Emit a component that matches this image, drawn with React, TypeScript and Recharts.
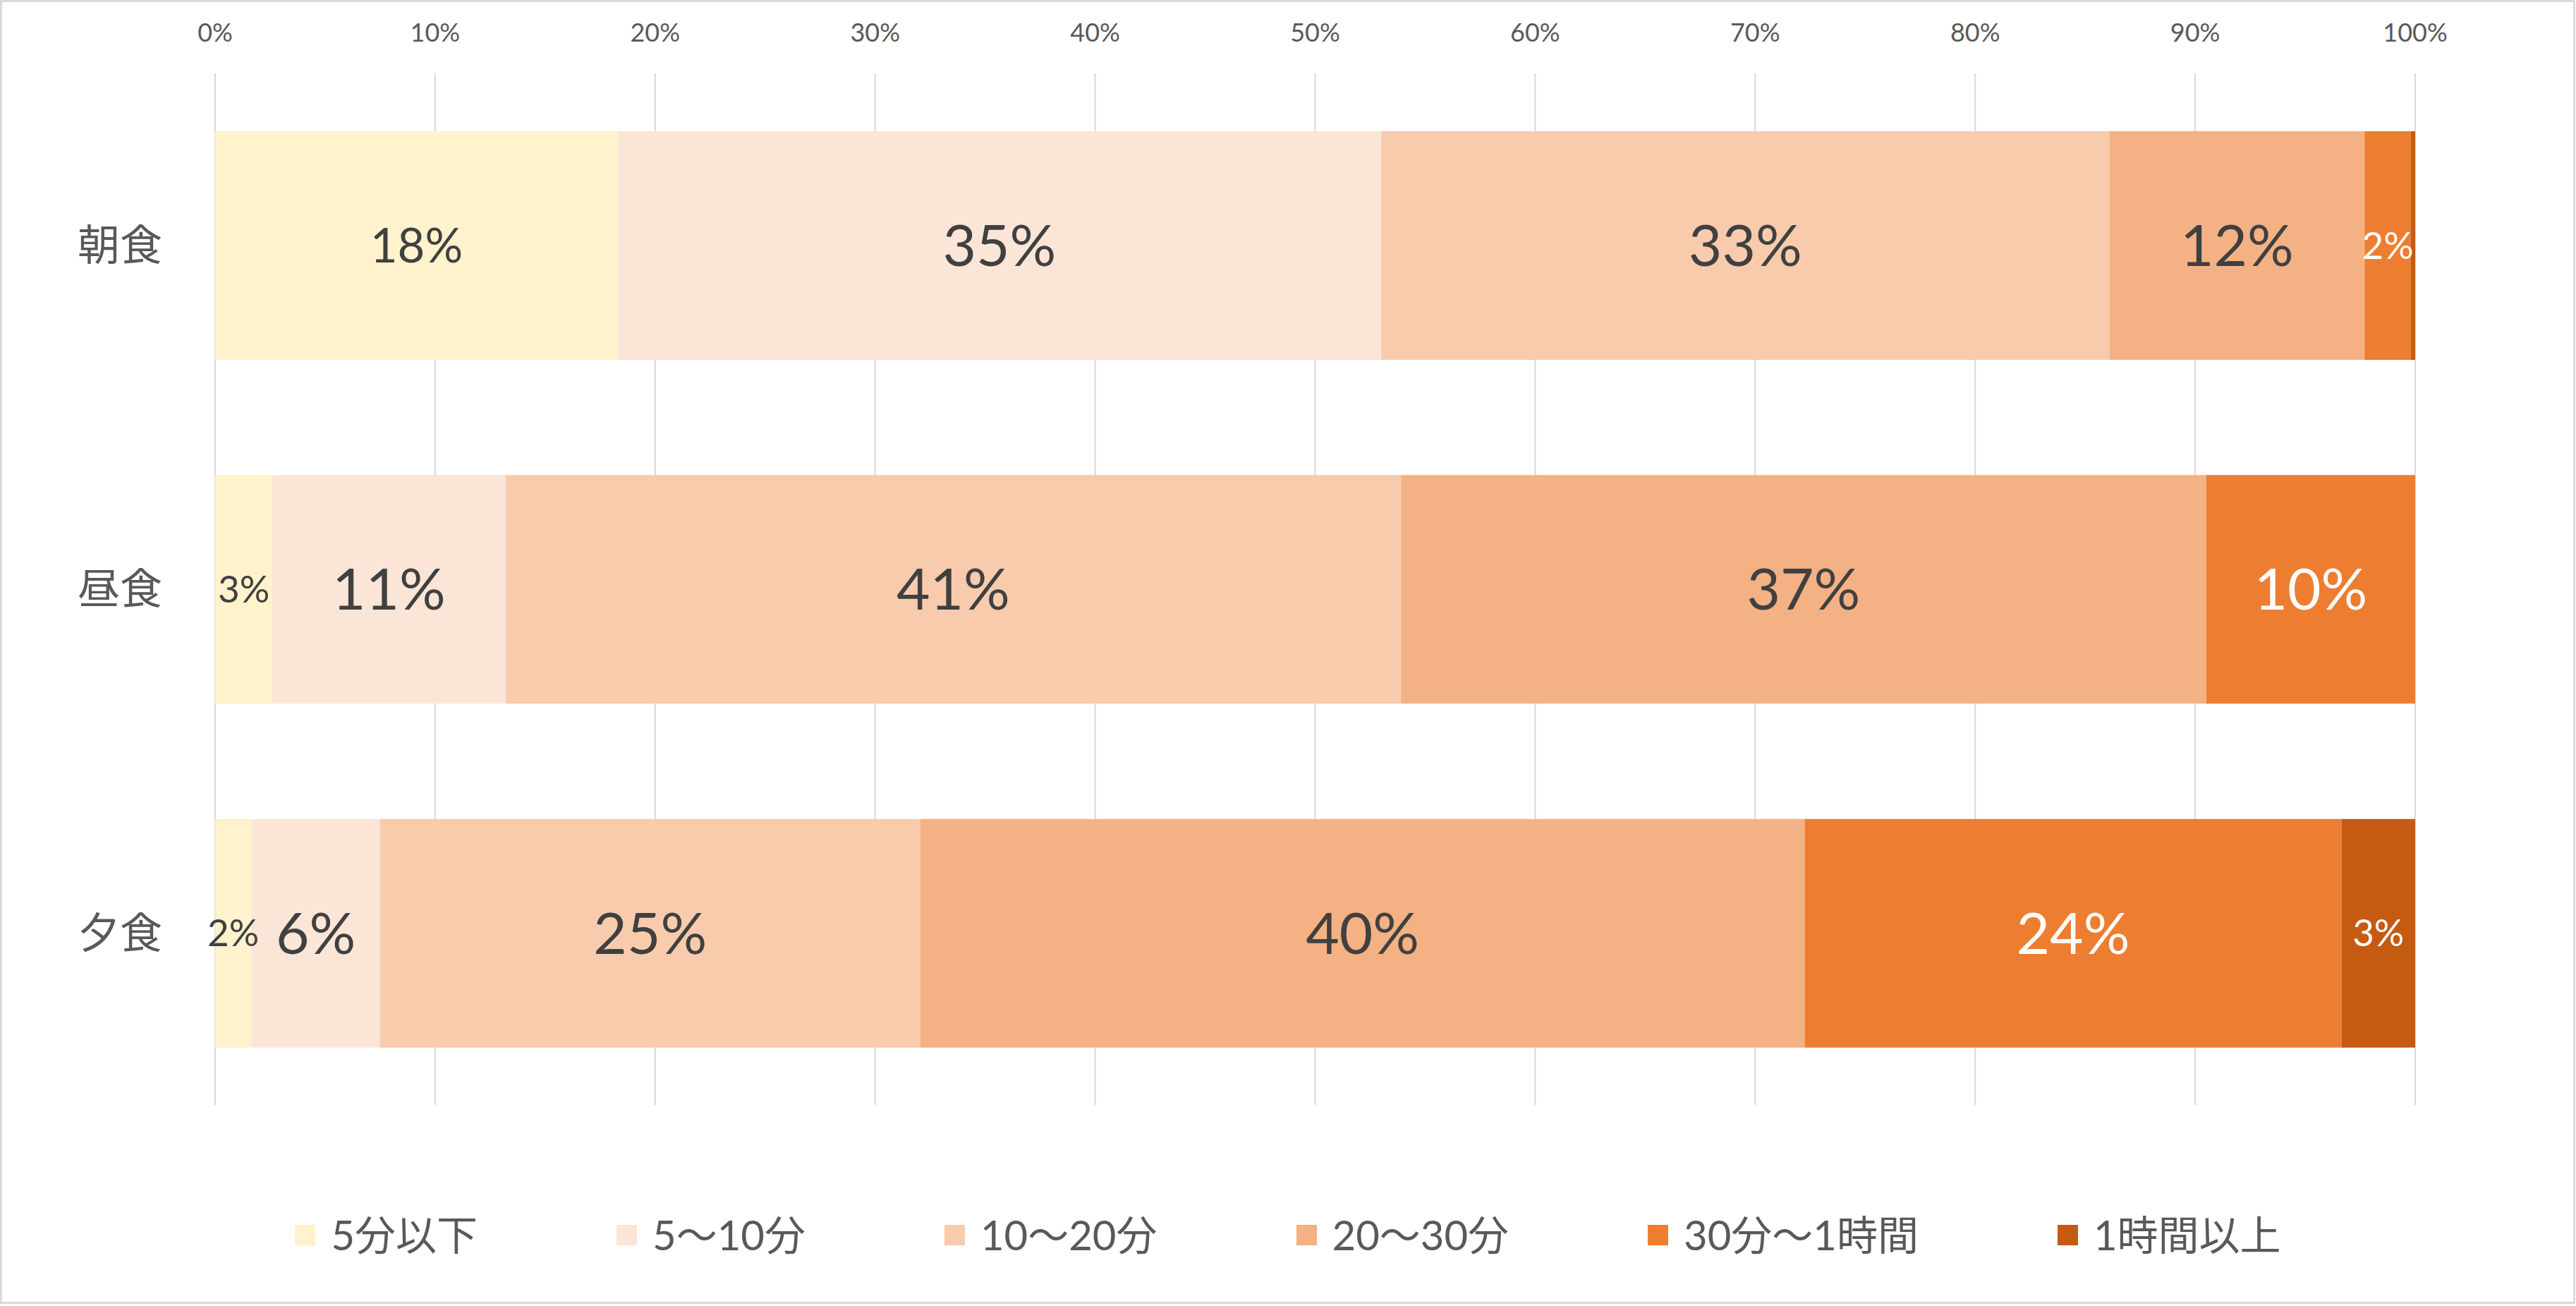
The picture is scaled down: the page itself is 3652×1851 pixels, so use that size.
import React from "react";
import { BarChart, Bar, XAxis, YAxis, CartesianGrid, Legend, LabelList, Text } from "recharts";

// 食事にかける時間の割合（朝食・昼食・夕食）
const categories = ["朝食", "昼食", "夕食"];
const seriesNames = ["5分以下", "5〜10分", "10〜20分", "20〜30分", "30分〜1時間", "1時間以上"];
const under5 = [18.3, 2.6, 1.65];
const from5to10 = [34.7, 10.6, 5.85];
const from10to20 = [33.1, 40.7, 24.55];
const from20to30 = [11.6, 36.6, 40.2];
const from30to60 = [2.1, 9.5, 24.4];
const over60 = [0.2, 0, 3.35];
const xTicks = [0, 10, 20, 30, 40, 50, 60, 70, 80, 90, 100];

const seriesValues = [under5, from5to10, from10to20, from20to30, from30to60, over60];

const COLORS = ["#FFF2CC", "#FBE5D6", "#F8CBAD", "#F4B183", "#ED7D31", "#C55A11"];
const LABEL_FILL = ["#404040", "#404040", "#404040", "#404040", "#FFFFFF", "#FFFFFF"];
const FONT = "Lato, 'Noto Sans CJK JP', sans-serif";
const W = 3652;
const H = 1851;
// 朝食の「5分以下」だけラベルが少し小さい
const sizeOverride: Record<string, number> = { "0-0": 67 };

const data = categories.map((name, i) => {
  const row: any = { name };
  seriesValues.forEach((vals, j) => {
    row[`k${j}`] = vals[i];
  });
  return row;
});

const makeLabel = (j: number) => (props: any) => {
  const vb = props.viewBox || {};
  const x = props.x ?? vb.x;
  const y = props.y ?? vb.y;
  const width = props.width ?? vb.width;
  const height = props.height ?? vb.height;
  const value = Number(props.value);
  if (!isFinite(value) || value < 1) return null;
  const size = value < 5 ? 53 : sizeOverride[`${props.index}-${j}`] ?? 82;
  return (
    <Text
      x={x + width / 2}
      y={y + height / 2}
      textAnchor="middle"
      verticalAnchor="middle"
      fontSize={size}
      fontFamily={FONT}
      fill={LABEL_FILL[j]}
    >
      {`${Math.round(value)}%`}
    </Text>
  );
};

const renderLegend = () => (
  <div
    style={{
      height: 285,
      width: W,
      display: "flex",
      justifyContent: "center",
      alignItems: "flex-start",
      paddingTop: 144,
      boxSizing: "border-box",
      fontFamily: FONT,
    }}
  >
    {seriesNames.map((n, j) => (
      <div
        key={n}
        style={{ display: "flex", alignItems: "center", height: 80, marginRight: j < seriesNames.length - 1 ? 197 : 0 }}
      >
        <span style={{ display: "inline-block", width: 29, height: 29, background: COLORS[j], marginRight: 22 }} />
        <span style={{ fontSize: 58, color: "#595959", lineHeight: "80px", whiteSpace: "nowrap" }}>{n}</span>
      </div>
    ))}
  </div>
);

export default function App() {
  return (
    <div style={{ position: "absolute", left: 0, top: 0, width: W, height: H, background: "#fff" }}>
      <BarChart
        width={W}
        height={H}
        data={data}
        layout="vertical"
        margin={{ top: 0, right: 228, bottom: 0, left: 0 }}
      >
        <CartesianGrid horizontal={false} stroke="#D9D9D9" strokeWidth={2} />
        <XAxis
          type="number"
          orientation="top"
          domain={[0, 100]}
          ticks={xTicks}
          tickFormatter={(v: number) => `${v}%`}
          height={104}
          axisLine={false}
          tickLine={false}
          tickSize={0}
          tickMargin={45}
          interval={0}
          tick={{ fontSize: 36, fill: "#595959", fontFamily: FONT }}
        />
        <YAxis
          type="category"
          dataKey="name"
          width={305}
          axisLine={false}
          tickLine={false}
          tickSize={0}
          tickMargin={75}
          tick={{ fontSize: 60, fill: "#595959", fontFamily: FONT }}
        />
        <Legend content={renderLegend} verticalAlign="bottom" wrapperStyle={{ left: 0, width: W }} />
        {seriesNames.map((n, j) => (
          <Bar
            key={n}
            dataKey={`k${j}`}
            name={n}
            stackId="a"
            fill={COLORS[j]}
            barSize={324}
            isAnimationActive={false}
          >
            <LabelList dataKey={`k${j}`} content={makeLabel(j)} />
          </Bar>
        ))}
      </BarChart>
      <div
        style={{
          position: "absolute",
          left: 0,
          top: 0,
          width: 3651,
          height: 1848,
          border: "3px solid #D9D9D9",
          boxSizing: "border-box",
          pointerEvents: "none",
        }}
      />
    </div>
  );
}
